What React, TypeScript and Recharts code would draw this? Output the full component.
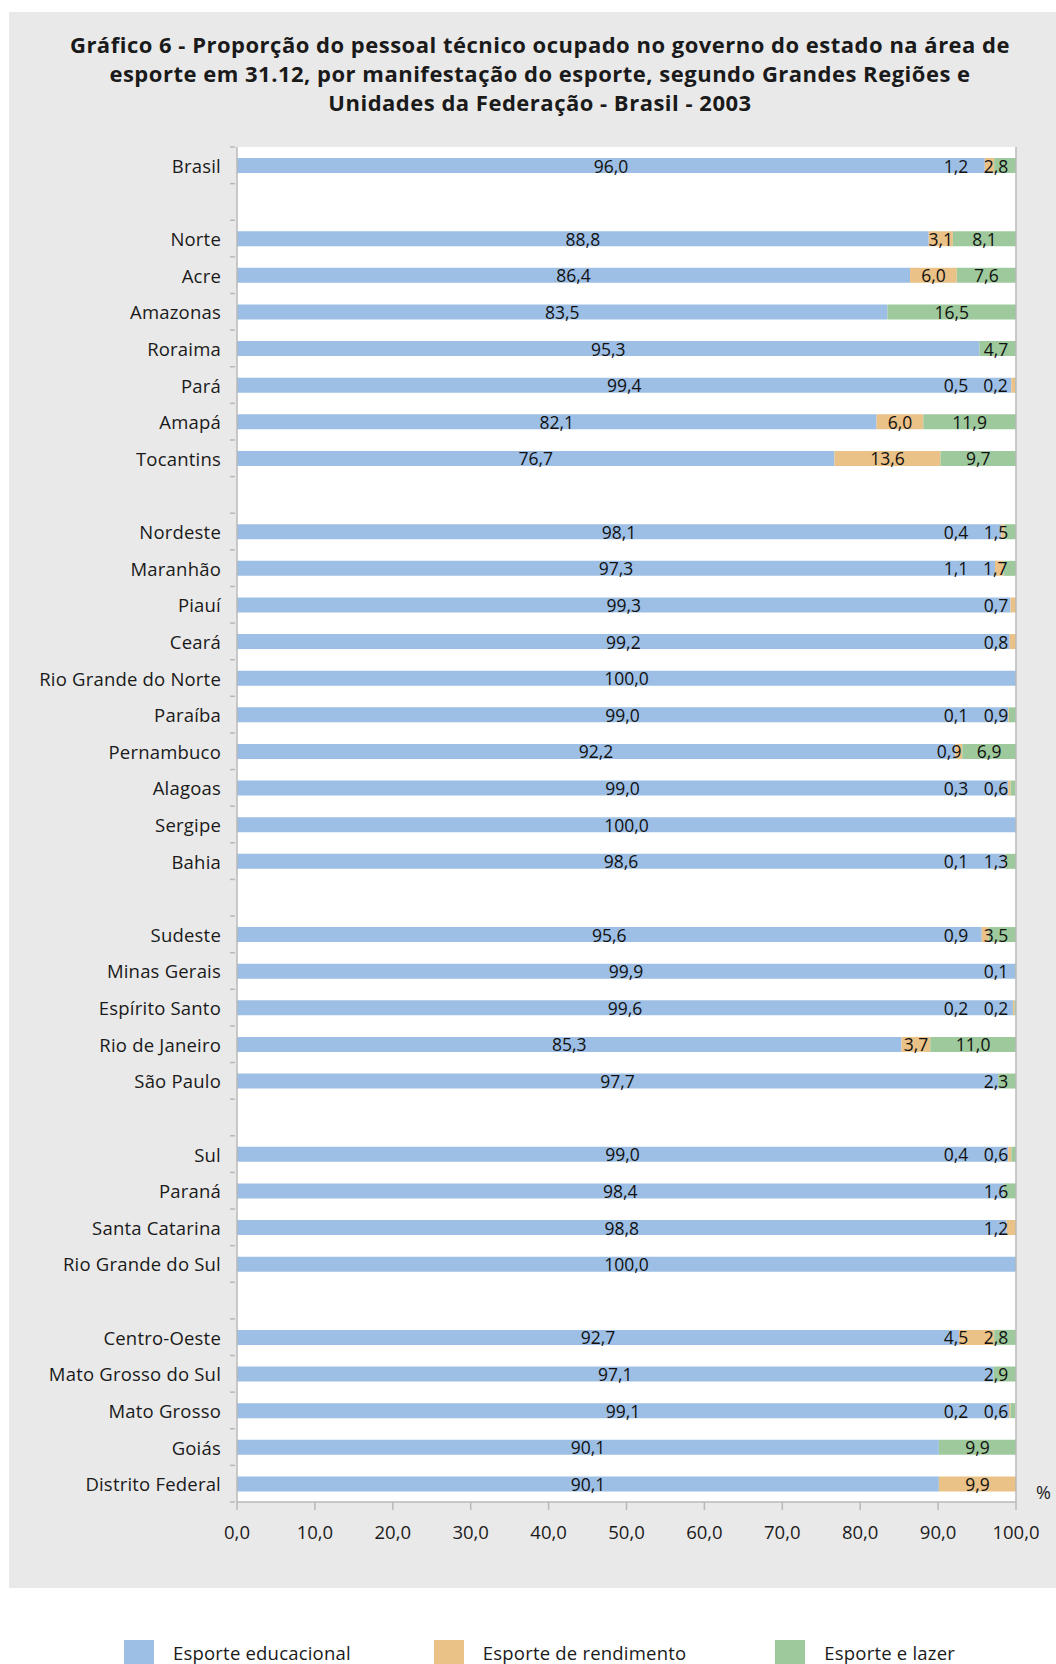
import { BarChart, Bar, XAxis, YAxis, CartesianGrid, LabelList, ReferenceLine } from "recharts";

const categories = [
  "Brasil", "",
  "Norte", "Acre", "Amazonas", "Roraima", "Pará", "Amapá", "Tocantins", "",
  "Nordeste", "Maranhão", "Piauí", "Ceará", "Rio Grande do Norte", "Paraíba", "Pernambuco", "Alagoas", "Sergipe", "Bahia", "",
  "Sudeste", "Minas Gerais", "Espírito Santo", "Rio de Janeiro", "São Paulo", "",
  "Sul", "Paraná", "Santa Catarina", "Rio Grande do Sul", "",
  "Centro-Oeste", "Mato Grosso do Sul", "Mato Grosso", "Goiás", "Distrito Federal",
];

const educacional = [
  96.0, null,
  88.8, 86.4, 83.5, 95.3, 99.4, 82.1, 76.7, null,
  98.1, 97.3, 99.3, 99.2, 100.0, 99.0, 92.2, 99.0, 100.0, 98.6, null,
  95.6, 99.9, 99.6, 85.3, 97.7, null,
  99.0, 98.4, 98.8, 100.0, null,
  92.7, 97.1, 99.1, 90.1, 90.1,
];

const rendimento = [
  1.2, null,
  3.1, 6.0, 0, 0, 0.5, 6.0, 13.6, null,
  0.4, 1.1, 0.7, 0.8, 0, 0.1, 0.9, 0.3, 0, 0.1, null,
  0.9, 0, 0.2, 3.7, 0, null,
  0.4, 0, 1.2, 0, null,
  4.5, 0, 0.2, 0, 9.9,
];

const lazer = [
  2.8, null,
  8.1, 7.6, 16.5, 4.7, 0.2, 11.9, 9.7, null,
  1.5, 1.7, 0, 0, 0, 0.9, 6.9, 0.6, 0, 1.3, null,
  3.5, 0.1, 0.2, 11.0, 2.3, null,
  0.6, 1.6, 0, 0, null,
  2.8, 2.9, 0.6, 9.9, 0,
];

const xTicks = [0, 10, 20, 30, 40, 50, 60, 70, 80, 90, 100];

const series = [
  { key: "educacional", name: "Esporte educacional", color: "#9dbfe5" },
  { key: "rendimento", name: "Esporte de rendimento", color: "#eac187" },
  { key: "lazer", name: "Esporte e lazer", color: "#9ec99c" },
];

type Row = { name: string; educacional: number; rendimento: number; lazer: number };

const data: Row[] = categories.map((c, i) => ({
  name: c || `_gap${i}`,
  educacional: educacional[i] ?? 0,
  rendimento: rendimento[i] ?? 0,
  lazer: lazer[i] ?? 0,
}));

const FONT = "'Open Sans', 'DejaVu Sans', sans-serif";
const fmt = (v: number) => v.toFixed(1).replace(".", ",");

const CategoryTick = (props: any) => {
  const { x, y, payload, index } = props;
  const off = payload.offset ?? 18;
  const ax = x + 6;
  const label = String(payload.value).startsWith("_gap") ? "" : payload.value;
  return (
    <g>
      <text x={ax - 14} y={y} textAnchor="end" dominantBaseline="central" fontSize={18.5} letterSpacing={0.2} fill="#1a1a1a" fontFamily={FONT}>
        {label}
      </text>
      <line x1={ax - 5} x2={ax} y1={y + off} y2={y + off} stroke="#b8b8b8" strokeWidth={1.5} />
      {index === 0 && <line x1={ax - 5} x2={ax} y1={y - off} y2={y - off} stroke="#b8b8b8" strokeWidth={1.5} />}
    </g>
  );
};

// label content gets the whole row through valueAccessor, so small segments
// can be nudged left the way the original chart spreads them out
const makeLabel = (key: keyof Row) => (props: any) => {
  const { x, y, width, height, value, index } = props;
  let row: Row | undefined = value && typeof value === "object" ? value : undefined;
  if (!row) row = data.filter((d) => d[key])[index];
  if (!row) return null;
  const v = row[key] as number;
  if (!v) return null;
  const px = width / v;
  let start = x;
  if (key !== "educacional") start -= row.educacional * px;
  if (key === "lazer") start -= row.rendimento * px;
  const limit = start + 100 * px - 20;
  let cx = x + width / 2;
  if (key === "lazer") cx = Math.min(cx, limit);
  if (key === "rendimento") {
    if (row.lazer) {
      const lazerCx = Math.min(x + width + (row.lazer * px) / 2, limit);
      cx = Math.min(cx, lazerCx - 40);
    } else cx = Math.min(cx, limit);
  }
  return (
    <text x={cx} y={y + height / 2} textAnchor="middle" dominantBaseline="central" fontSize={17.5} fill="#111" fontFamily={FONT}>
      {fmt(v)}
    </text>
  );
};

export default function App() {
  return (
    <div style={{ position: "fixed", left: 0, top: 0, width: 1056, height: 1664, fontFamily: FONT, overflow: "hidden", background: "#fff" }}>
      <div style={{ position: "absolute", left: 9, top: 12, width: 1047, height: 1576, background: "#e9e9e9" }} />
      <div style={{ position: "absolute", left: 20, top: 30, width: 1040, textAlign: "center", fontWeight: 700, fontSize: 22, letterSpacing: 0.5, lineHeight: "29px", color: "#1a1a1a" }}>
        Gráfico 6 - Proporção do pessoal técnico ocupado no governo do estado na área de
        <br />
        esporte em 31.12, por manifestação do esporte, segundo Grandes Regiões e
        <br />
        Unidades da Federação - Brasil - 2003
      </div>
      <div style={{ position: "absolute", left: 0, top: 0 }}>
        <BarChart width={1056} height={1590} data={data} layout="vertical" margin={{ top: 147, right: 40, bottom: 28, left: 0 }}>
          <CartesianGrid fill="#ffffff" horizontal={false} vertical={false} />
          <XAxis
            type="number"
            domain={[0, 100]}
            ticks={xTicks}
            allowDataOverflow
            tickFormatter={fmt}
            height={60}
            tickSize={8}
            tickMargin={16}
            axisLine={{ stroke: "#b8b8b8", strokeWidth: 1.5 }}
            tickLine={{ stroke: "#b8b8b8", strokeWidth: 1.5 }}
            tick={{ fontSize: 18.5, fill: "#1a1a1a", fontFamily: FONT }}
          />
          <XAxis
            xAxisId="top"
            orientation="top"
            type="number"
            domain={[0, 100]}
            height={0}
            tick={false}
            tickLine={false}
            axisLine={{ stroke: "#b8b8b8", strokeWidth: 1.5 }}
          />
          <YAxis
            type="category"
            dataKey="name"
            width={237}
            interval={0}
            tickLine={false}
            axisLine={{ stroke: "#b8b8b8", strokeWidth: 1.5 }}
            tick={<CategoryTick />}
          />
          <ReferenceLine x={100} stroke="#b8b8b8" strokeWidth={1.5} ifOverflow="visible" />
          {series.map((s) => (
            <Bar key={s.key} dataKey={s.key} name={s.name} stackId="a" fill={s.color} barSize={15} isAnimationActive={false}>
              <LabelList
                dataKey={s.key}
                valueAccessor={(entry: any) => entry.payload ?? entry.value}
                content={makeLabel(s.key as keyof Row)}
              />
            </Bar>
          ))}
        </BarChart>
      </div>
      <div style={{ position: "absolute", left: 1036, top: 1480, fontSize: 18, color: "#1a1a1a" }}>%</div>
      <div style={{ position: "absolute", left: 124, top: 1640, display: "flex", alignItems: "flex-start" }}>
        {series.map((s, i) => (
          <div key={s.key} style={{ display: "flex", alignItems: "flex-start", marginRight: i === 0 ? 83 : 89 }}>
            <div style={{ width: 30, height: 30, background: s.color, marginRight: 19 }} />
            <span style={{ fontSize: 18.5, letterSpacing: 0.2, color: "#1a1a1a", lineHeight: "22px", marginTop: 2 }}>{s.name}</span>
          </div>
        ))}
      </div>
    </div>
  );
}
